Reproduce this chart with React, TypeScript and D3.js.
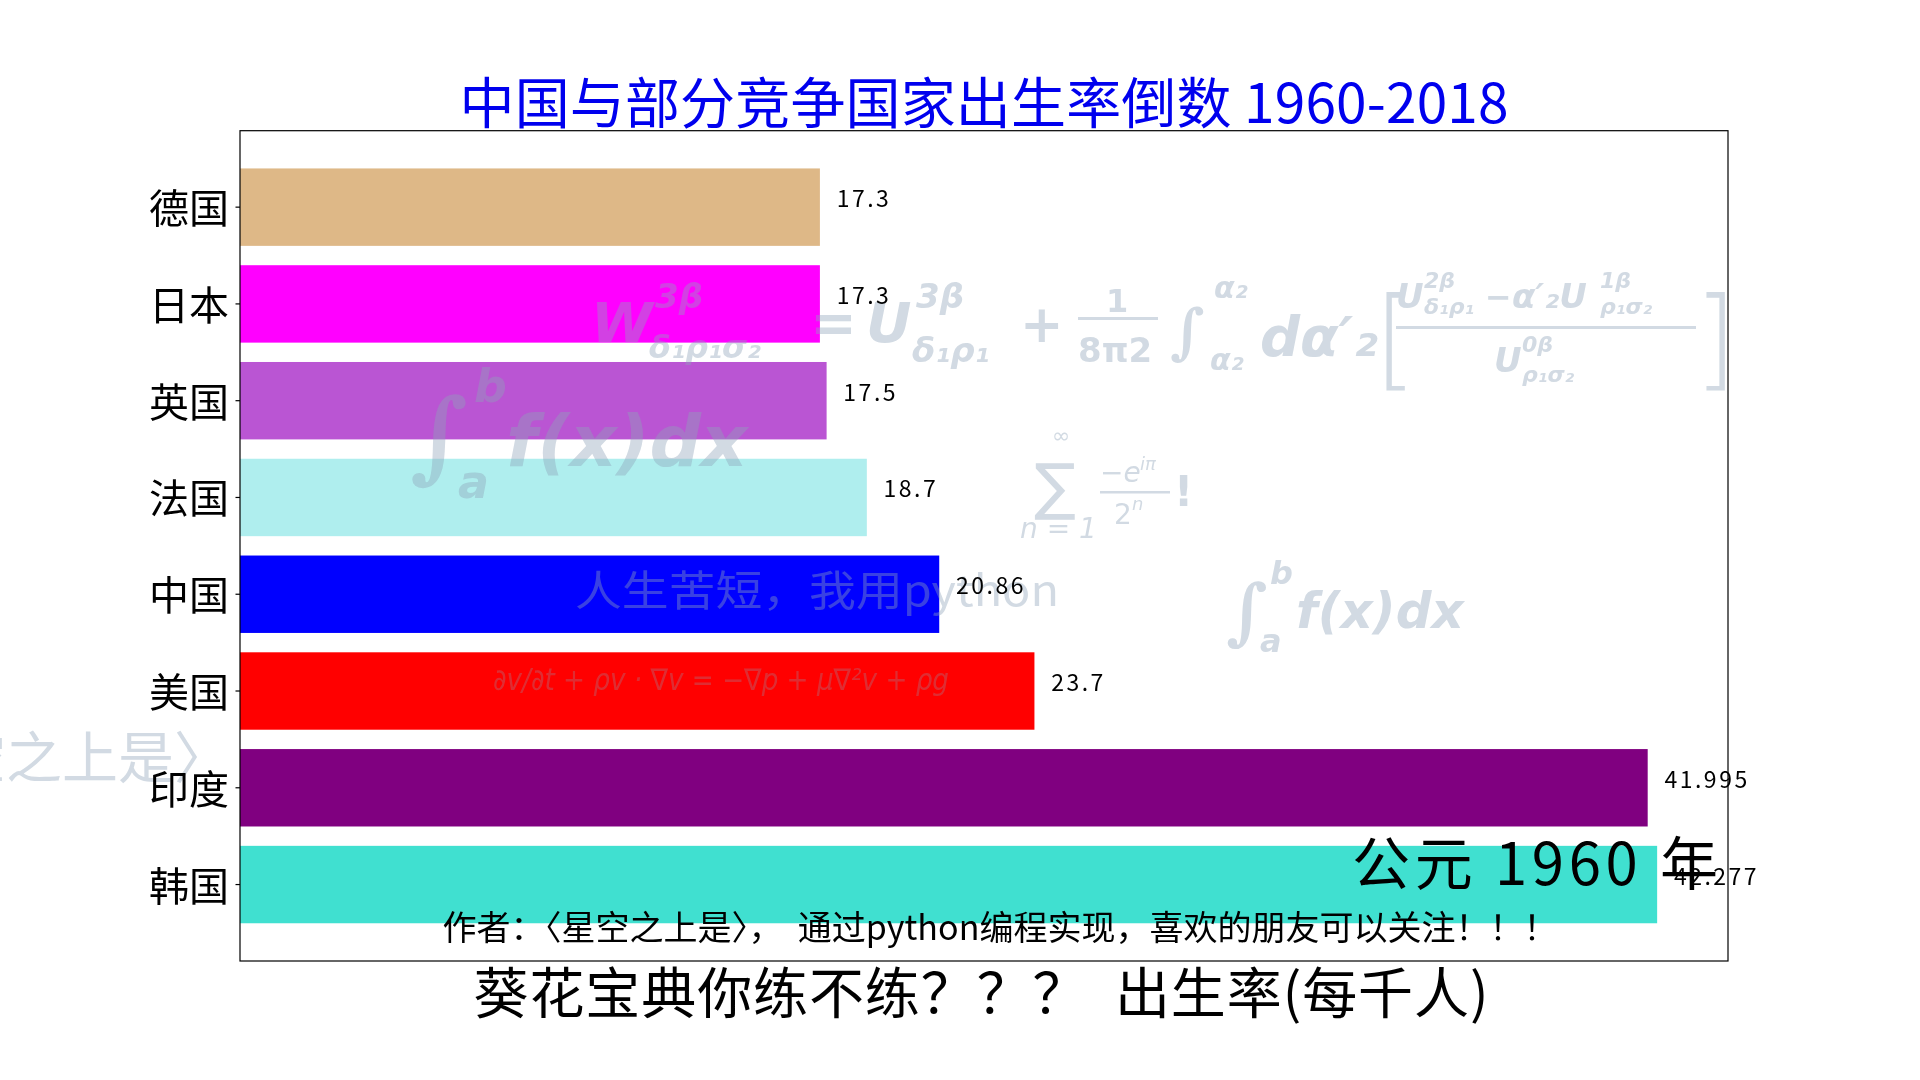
import React from "react";
import * as d3 from "d3";

const countries = ["德国", "日本", "英国", "法国", "中国", "美国", "印度", "韩国"];
const birthRates = [17.3, 17.3, 17.5, 18.7, 20.86, 23.7, 41.995, 42.277];
const valueLabels = ["17.3", "17.3", "17.5", "18.7", "20.86", "23.7", "41.995", "42.277"];
const barColors = ["#DEB887", "#FF00FF", "#BA55D3", "#AFEEEE", "#0000FF", "#FF0000", "#800080", "#40E0D0"];
const titleText = "中国与部分竞争国家出生率倒数 1960-2018";
const xLabelText = "葵花宝典你练不练？？？  出生率(每千人)";
const authorText = "作者：〈星空之上是〉，  通过python编程实现，喜欢的朋友可以关注！！！";
const yearText = "公元 1960 年";

const FONT = "'Noto Sans CJK SC', 'Noto Sans', sans-serif";
const W = 1920;
const H = 1080;
const AX = { left: 240, right: 1728, top: 130.7, bottom: 961 };

const WM_FILL = "#8ea3b8";
const WM_OP = 0.4;

function Watermarks() {
  const mathFont = "'DejaVu Serif', 'Liberation Serif', serif";
  const sans = "'DejaVu Sans', 'Noto Sans', sans-serif";
  const it = { fontStyle: "italic" as const, fontWeight: 700 };
  return (
    <g fill={WM_FILL} opacity={WM_OP} style={{ pointerEvents: "none" }}>
      {/* big formula */}
      <g fontFamily={sans} {...it}>
        <text x={591} y={342} fontSize={56}>W</text>
        <text x={655} y={308} fontSize={34}>3β</text>
        <text x={649} y={358} fontSize={32}>δ₁ρ₁σ₂</text>
        <text x={810} y={342} fontSize={56} fontStyle="normal">=</text>
        <text x={866} y={342} fontSize={56}>U</text>
        <text x={916} y={308} fontSize={34}>3β</text>
        <text x={912} y={362} fontSize={34}>δ₁ρ₁</text>
        <text x={1020} y={342} fontSize={52} fontStyle="normal">+</text>
        <text x={1106} y={312} fontSize={32} fontStyle="normal">1</text>
        <rect x={1078} y={317} width={80} height={3} />
        <text x={1078} y={362} fontSize={34} fontStyle="normal">8π2</text>
        <text x={1170} y={352} fontSize={60} fontStyle="normal" fontFamily={mathFont}>∫</text>
        <text x={1214} y={298} fontSize={30}>α₂</text>
        <text x={1210} y={370} fontSize={30}>α₂</text>
        <text x={1260} y={356} fontSize={56}>dα′₂</text>
        <text x={1374} y={376} fontSize={110} fontStyle="normal" fontWeight={300}>[</text>
        <text x={1396} y={308} fontSize={34}>U</text>
        <text x={1424} y={288} fontSize={22}>2β</text>
        <text x={1424} y={314} fontSize={22}>δ₁ρ₁</text>
        <text x={1485} y={308} fontSize={32} fontStyle="normal">−</text>
        <text x={1512} y={308} fontSize={34}>α′₂U</text>
        <text x={1600} y={288} fontSize={22}>1β</text>
        <text x={1600} y={314} fontSize={22}>ρ₁σ₂</text>
        <rect x={1396} y={326} width={300} height={3} />
        <text x={1494} y={372} fontSize={34}>U</text>
        <text x={1522} y={352} fontSize={22}>0β</text>
        <text x={1522} y={382} fontSize={22}>ρ₁σ₂</text>
        <text x={1694} y={376} fontSize={110} fontStyle="normal" fontWeight={300}>]</text>
      </g>
      {/* ∫ a..b f(x)dx (large) */}
      <g fontFamily={sans} {...it}>
        <text x={410} y={470} fontSize={100} fontStyle="normal" fontFamily={mathFont}>∫</text>
        <text x={474} y={402} fontSize={46}>b</text>
        <text x={458} y={498} fontSize={46}>a</text>
        <text x={506} y={466} fontSize={72}>f(x)dx</text>
      </g>
      {/* sum */}
      <g fontFamily={sans} fontStyle="italic">
        <text x={1052} y={443} fontSize={22} fontStyle="normal">∞</text>
        <text x={1034} y={508} fontSize={62} fontStyle="normal">∑</text>
        <text x={1020} y={538} fontSize={28}>n = 1</text>
        <text x={1100} y={482} fontSize={28}>−e</text>
        <text x={1140} y={470} fontSize={18}>iπ</text>
        <rect x={1100} y={491} width={70} height={2.5} />
        <text x={1114} y={524} fontSize={28} fontStyle="normal">2</text>
        <text x={1132} y={510} fontSize={18}>n</text>
        <text x={1174} y={506} fontSize={42} fontStyle="normal" fontWeight={700}>!</text>
      </g>
      {/* 人生苦短 */}
      <text x={575} y={606} fontSize={42} fontFamily={FONT} textLength={484} lengthAdjust="spacingAndGlyphs">
        人生苦短，我用python
      </text>
      {/* ∫ a..b f(x)dx (small) */}
      <g fontFamily={sans} {...it}>
        <text x={1226} y={636} fontSize={72} fontStyle="normal" fontFamily={mathFont}>∫</text>
        <text x={1270} y={584} fontSize={32}>b</text>
        <text x={1260} y={652} fontSize={32}>a</text>
        <text x={1296} y={628} fontSize={50}>f(x)dx</text>
      </g>
      {/* Navier–Stokes */}
      <text
        x={493}
        y={690}
        fontSize={30}
        fontFamily={sans}
        fontStyle="italic"
        textLength={456}
        lengthAdjust="spacingAndGlyphs"
        opacity={0.7}
      >
        ∂v/∂t + ρv · ∇v = −∇p + μ∇²v + ρg
      </text>
      {/* author watermark at left */}
      <text x={230} y={778} fontSize={56} fontFamily={FONT} textAnchor="end">〈星空之上是〉</text>
    </g>
  );
}

export default function App() {
  const n = countries.length;
  const xMax = d3.max(birthRates)! * 1.05;
  const x = d3.scaleLinear().domain([0, xMax]).range([AX.left, AX.right]);
  const y = d3.scaleLinear().domain([-0.79, n - 1 + 0.79]).range([AX.bottom, AX.top]);
  const barH = y(0) - y(0.8);
  const pos = (i: number) => n - 1 - i;
  const cx = (AX.left + AX.right) / 2;

  return (
    <svg
      width={W}
      height={H}
      viewBox={`0 0 ${W} ${H}`}
      style={{ position: "fixed", left: 0, top: 0, background: "#fff" }}
    >
      <rect x={0} y={0} width={W} height={H} fill="#fff" />
      {/* bars */}
      {countries.map((c, i) => (
        <rect
          key={c}
          x={x(0)}
          y={y(pos(i) + 0.4)}
          width={x(birthRates[i]) - x(0)}
          height={barH}
          fill={barColors[i]}
        />
      ))}
      <Watermarks />
      {/* value labels */}
      {countries.map((c, i) => (
        <text
          key={c + "v"}
          x={x(birthRates[i] + 0.5)}
          y={y(pos(i))}
          fontSize={23}
          fontFamily={FONT}
          fill="#000"
          letterSpacing={2.5}
        >
          {valueLabels[i]}
        </text>
      ))}
      {/* axes frame */}
      <rect
        x={AX.left}
        y={AX.top}
        width={AX.right - AX.left}
        height={AX.bottom - AX.top}
        fill="none"
        stroke="#000"
        strokeWidth={1.2}
      />
      {/* y ticks & labels */}
      {countries.map((c, i) => (
        <g key={c + "t"}>
          <line x1={AX.left - 4.5} x2={AX.left} y1={y(pos(i))} y2={y(pos(i))} stroke="#000" strokeWidth={1.2} />
          <text
            x={AX.left - 11}
            y={y(pos(i)) + 16}
            fontSize={40}
            fontFamily={FONT}
            textAnchor="end"
            fill="#000"
          >
            {c}
          </text>
        </g>
      ))}
      {/* title */}
      <text
        x={cx}
        y={123}
        fontSize={55}
        fontFamily={FONT}
        textAnchor="middle"
        fill="#0000EE"
        textLength={1049}
        lengthAdjust="spacing"
      >
        {titleText}
      </text>
      {/* x label */}
      <text
        x={cx - 3}
        y={1013}
        fontSize={55}
        fontFamily={FONT}
        textAnchor="middle"
        fill="#000"
        textLength={1015}
        lengthAdjust="spacing"
        style={{ whiteSpace: "pre" }}
      >
        {xLabelText}
      </text>
      {/* author */}
      <text
        x={1000}
        y={940}
        fontSize={34}
        fontFamily={FONT}
        textAnchor="middle"
        fill="#000"
        textLength={1115}
        lengthAdjust="spacing"
        style={{ whiteSpace: "pre" }}
      >
        {authorText}
      </text>
      {/* year */}
      <text
        x={1718}
        y={885}
        fontSize={58}
        fontFamily={FONT}
        textAnchor="end"
        fill="#000"
        textLength={366}
        lengthAdjust="spacing"
        style={{ whiteSpace: "pre" }}
      >
        {yearText}
      </text>
    </svg>
  );
}
